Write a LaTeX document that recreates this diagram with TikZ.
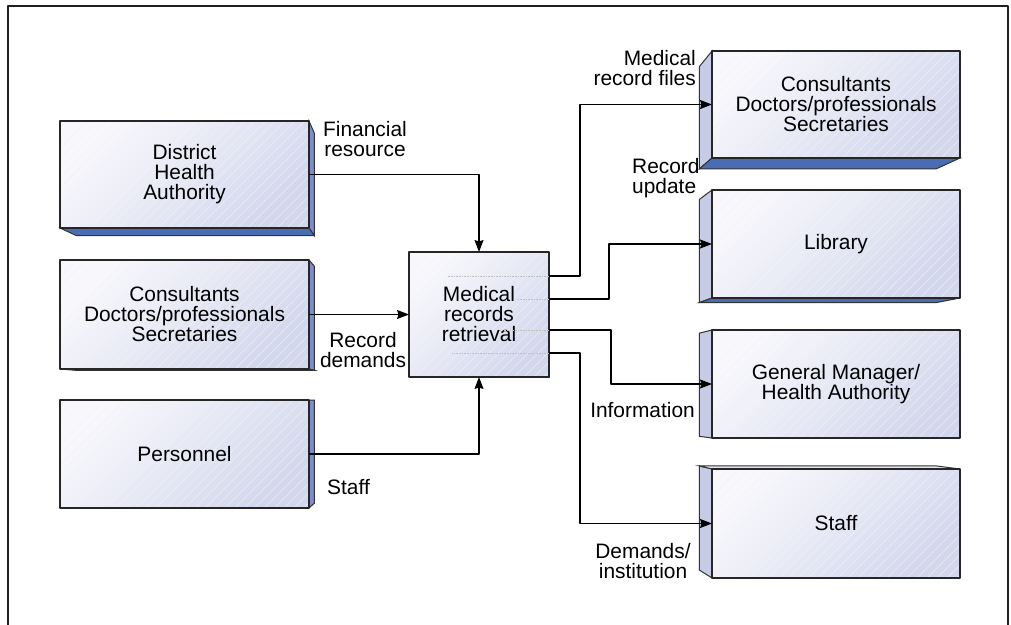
\documentclass[tikz,border=0pt]{standalone}
\usepackage{fontspec}
\setmainfont{Liberation Sans}
\usepackage{xcolor}
\usepackage{tikz}
\usetikzlibrary{arrows.meta,calc,patterns.meta,shadows}
\definecolor{mrframe}{HTML}{231F20}
\definecolor{mrlight}{HTML}{F8F8FC}
\definecolor{mrshade}{HTML}{D3D7EC}
\definecolor{mrright}{HTML}{7B8DCB}
\definecolor{mrbottom}{HTML}{4A6CB3}
\definecolor{mrleft}{HTML}{C6CCE6}
\definecolor{mrtop}{HTML}{E2E4EE}
\pgfdeclarelayer{bevels}
\pgfsetlayers{bevels,main}
\tikzset{
  mr/.style={x=1pt, y=-1pt, font=\fontsize{20.9}{20}\selectfont, line join=round},
  mr front/.style={outer sep=0pt, inner sep=0pt, align=center,
                   top color=mrlight, bottom color=mrshade, shading angle=45,
                   postaction={pattern={Lines[angle=45, distance=7pt, line width=0.35pt]},
                               pattern color=white!70!mrshade},
                   postaction={draw=black!85, line width=1.3pt}},
  mr shadow/.style={drop shadow={shadow xshift=1.2pt, shadow yshift=-1.2pt, fill=black!70, opacity=1}},
  mr bevel/.style={draw=black!80, line width=1pt},
  mr arr/.style={line width=1.2pt, -{Stealth[length=12pt, width=9pt, inset=1.5pt]}},
  mr dots/.style={densely dotted, draw=black!25, line width=0.6pt},
  mr lab/.style={inner sep=0pt},
  mr frame/.style={draw=mrframe, line width=2.4pt},
}
\newcommand{\mrdepth}{0.045}
% side face of a box, pushed back towards the vanishing point
\newcommand{\bevel}[4]{%
  \filldraw[mr bevel, fill=#4] (#1.#2) -- ($(#1.#2)!\mrdepth!(vp)$)
    -- ($(#1.#3)!\mrdepth!(vp)$) -- (#1.#3) -- cycle;}

\begin{document}
\begin{tikzpicture}[mr]
\useasboundingbox (0,0) rectangle (1011,624);
\coordinate (vp) at (430,400);
% ---- frame ----
\draw[mr frame] (8,640) -- (8,6) -- (1008,6) -- (1008,640);
% ---- sources ----
\node[mr front, minimum width=249pt, minimum height=107pt] (dha)  at (184.5,174.5) {District\\Health\\Authority};
\node[mr front, minimum width=249pt, minimum height=109pt] (cons) at (184.5,314.5) {Consultants\\Doctors/professionals\\Secretaries};
\node[mr front, minimum width=249pt, minimum height=108pt] (pers) at (184.5,454)   {Personnel};
% ---- retrieval ----
\node[mr front, mr shadow, minimum width=140pt, minimum height=125pt] (mrr) at (479,314.5) {Medical\\records\\retrieval};
% ---- users ----
\node[mr front, minimum width=248pt, minimum height=107pt] (users) at (836,104.5) {Consultants\\Doctors/professionals\\Secretaries};
\node[mr front, minimum width=248pt, minimum height=108pt] (lib)   at (836,244)   {Library};
\node[mr front, minimum width=248pt, minimum height=108pt] (gm)    at (836,384)   {General Manager/\\Health Authority};
\node[mr front, minimum width=248pt, minimum height=109pt] (stf)   at (836,523.5) {Staff};
% ---- bevels ----
\begin{pgfonlayer}{bevels}
\bevel{dha}{north east}{south east}{mrright}  \bevel{dha}{south west}{south east}{mrbottom}
\bevel{cons}{north east}{south east}{mrright} \bevel{cons}{south west}{south east}{mrbottom}
\bevel{pers}{north east}{south east}{mrright}
\bevel{users}{north west}{south west}{mrleft} \bevel{users}{south west}{south east}{mrbottom}
\bevel{lib}{north west}{south west}{mrleft}   \bevel{lib}{south west}{south east}{mrbottom}
\bevel{gm}{north west}{south west}{mrleft}
\bevel{stf}{north west}{south west}{mrleft}   \bevel{stf}{north west}{north east}{mrtop}
\end{pgfonlayer}
% ---- inputs ----
\draw[mr arr] (dha.east) -| (mrr.north);
\draw[mr arr] (cons.east) -- (mrr.west);
\draw[mr arr] (pers.east) -| (mrr.south);
% ---- outputs ----
\coordinate (o1) at ([yshift=38.5pt]mrr.east);
\coordinate (o2) at ([yshift=15.5pt]mrr.east);
\coordinate (o3) at ([yshift=-15.5pt]mrr.east);
\coordinate (o4) at ([yshift=-38.5pt]mrr.east);
\draw[mr dots] (o1) -- ++(-102,0); \draw[mr dots] (o2) -- ++(-32,0);
\draw[mr dots] (o3) -- ++(-49,0);  \draw[mr dots] (o4) -- ++(-97,0);
\draw[mr arr] (o1) -- ++(31,0) |- (users.west);
\draw[mr arr] (o2) -- ++(60,0) |- (lib.west);
\draw[mr arr] (o3) -- ++(62,0) |- (gm.west);
\draw[mr arr] (o4) -- ++(31,0) |- (stf.west);
% ---- labels ----
\node[mr lab, anchor=north west, align=center] (finl) at (323,121) {Financial\\resource};
\node[mr lab, anchor=north, align=center]      (recl) at (363,332) {Record\\demands};
\node[mr lab, anchor=north west]               (stfl) at (327,479) {Staff};
\node[mr lab, anchor=north east, align=right]  (mrfl) at (696,50)  {Medical\\record files};
\node[mr lab, anchor=north west, align=left]   (updl) at (632,158) {Record\\update};
\node[mr lab, anchor=north east]               (infl) at (695,402) {Information};
\node[mr lab, anchor=north, align=center]      (deml) at (643,543) {Demands/\\institution};
\end{tikzpicture}
\end{document}
